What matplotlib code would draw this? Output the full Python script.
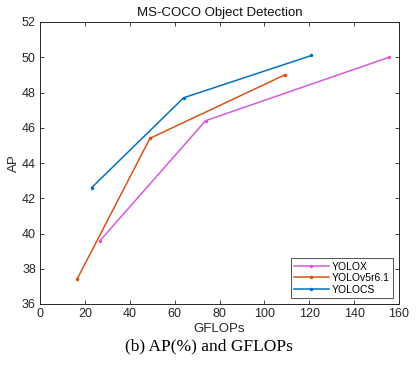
import matplotlib
matplotlib.use("Agg")
import matplotlib.pyplot as plt

yolox_gflops = [26.8, 73.8, 155.6]
yolox_ap = [39.6, 46.4, 50.0]
yolov5_gflops = [16.5, 49.0, 109.1]
yolov5_ap = [37.4, 45.4, 49.0]
yolocs_gflops = [23.0, 64.0, 121.0]
yolocs_ap = [42.6, 47.7, 50.1]

xticks = [0, 20, 40, 60, 80, 100, 120, 140, 160]
yticks = [36, 38, 40, 42, 44, 46, 48, 50, 52]

plt.rcParams['font.family'] = ['Liberation Sans', 'DejaVu Sans']

fig = plt.figure(figsize=(4.18, 3.70), dpi=100)
ax = fig.add_axes([40/418, 66/370, 359/418, 282/370])

ax.plot(yolox_gflops, yolox_ap, color='#D85ADC', lw=1.1, marker='.', ms=3, label='YOLOX')
ax.plot(yolov5_gflops, yolov5_ap, color='#D95319', lw=1.1, marker='.', ms=3, label='YOLOv5r6.1')
ax.plot(yolocs_gflops, yolocs_ap, color='#0072BD', lw=1.1, marker='.', ms=3, label='YOLOCS')

ax.set_xlim(0, 160)
ax.set_ylim(36, 52)
ax.set_xticks(xticks)
ax.set_yticks(yticks)
ax.tick_params(direction='in', top=True, right=True, labelsize=9, length=3, width=0.6, colors='#262626', pad=3)
for s in ax.spines.values():
    s.set_linewidth(0.7)
    s.set_color('#262626')

ax.set_xlabel('GFLOPs', fontsize=9.5, color='#262626', labelpad=2)
ax.set_ylabel('AP', fontsize=9.5, color='#262626', labelpad=1)
ax.set_title('MS-COCO Object Detection', fontsize=9.5, color='#111111', pad=4)

leg = ax.legend(loc='lower right', fontsize=7.5, handlelength=3.3, frameon=True, fancybox=False,
                edgecolor='#262626', borderpad=0.3, labelspacing=0.15, handletextpad=0.3,
                borderaxespad=0.6)
leg.get_frame().set_linewidth(0.7)

fig.text(0.5, 1 - 346/370, '(b) AP(%) and GFLOPs', ha='center', va='center',
         fontsize=12.5, family=['Liberation Serif', 'DejaVu Serif'])

fig.savefig('out.png', dpi=100)
